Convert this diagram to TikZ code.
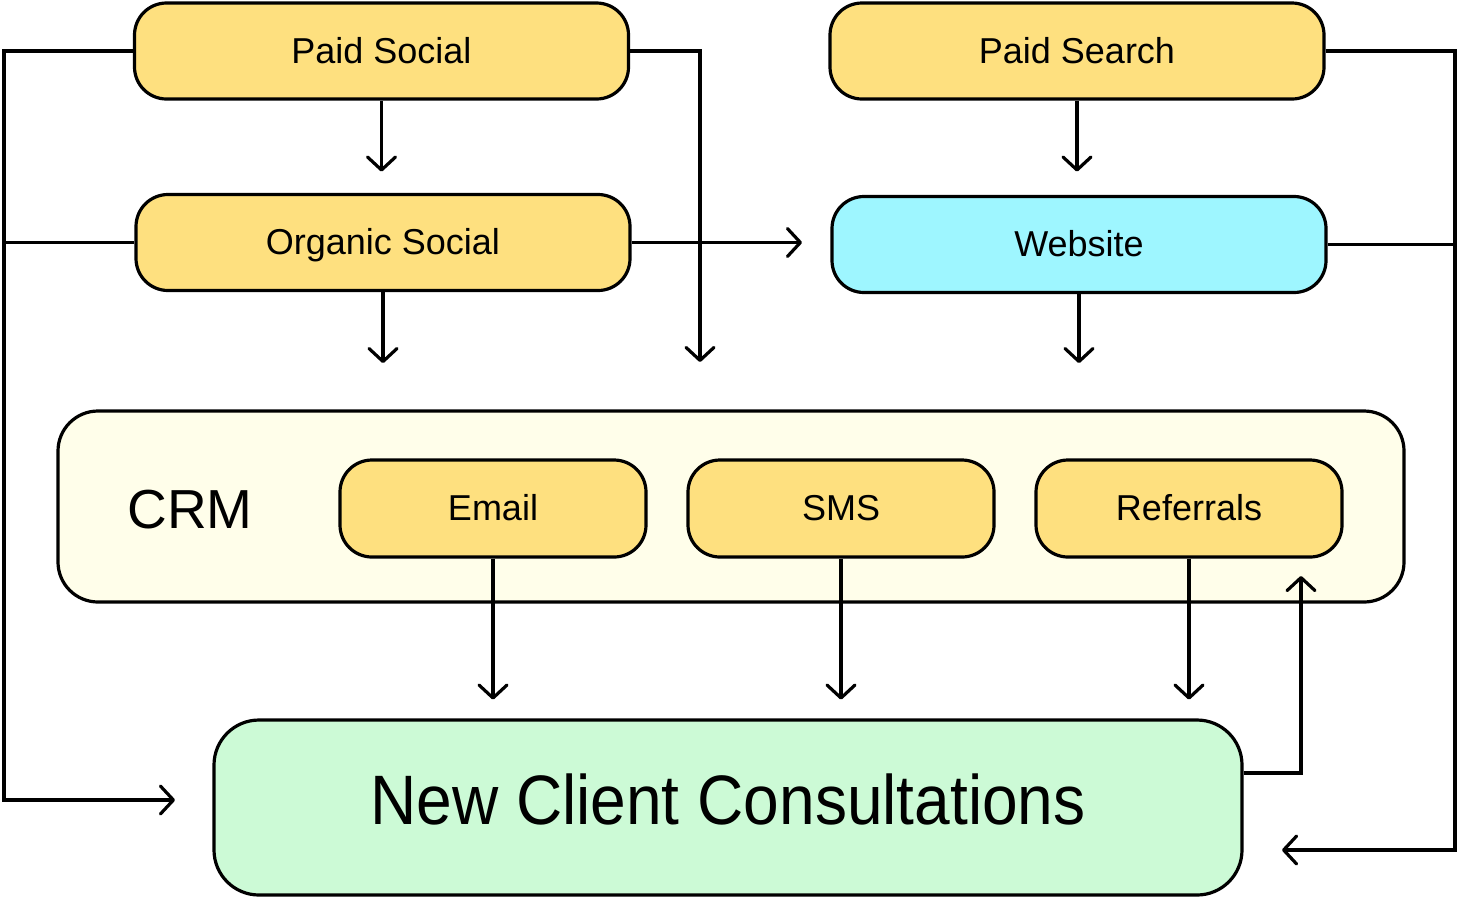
\documentclass[tikz,border=0pt]{standalone}
\usepackage{fontspec}
\setmainfont{Liberation Sans}
\newfontfamily\nccfont[FakeStretch=0.915]{Liberation Sans}
\usetikzlibrary{arrows.meta}
\definecolor{cyel}{HTML}{FEE07F}
\definecolor{ccyan}{HTML}{9EF6FF}
\definecolor{cgreen}{HTML}{CCFAD6}
\definecolor{ccrm}{HTML}{FFFEEA}
\tikzset{
  chan/.style={draw, line width=3.2pt, rounded corners=32pt, fill=cyel, minimum width=494pt, minimum height=96pt, font=\fontsize{36}{40}\selectfont, inner sep=0pt, text height=26pt, text depth=2pt},
  sub/.style={chan, minimum width=306pt, minimum height=97pt},
  conn/.style={line width=3.2pt},
  arr/.style={conn, -{Straight Barb[length=13pt,width=28pt,round]}},
}
\begin{document}
\begin{tikzpicture}[x=1pt,y=-1pt]
\useasboundingbox (0,0) rectangle (1458,898);
\node[draw, line width=3.2pt, rounded corners=40pt, fill=ccrm, minimum width=1346pt, minimum height=191pt] (crm) at (731,506.5) {};
\node[font=\fontsize{55}{60}\selectfont] (crmlabel) at (190,510) {CRM};
\node[chan] (ps) at (381.5,51) {Paid Social};
\node[chan] (os) at (383,242.5) {Organic Social};
\node[chan] (psr) at (1077,51) {Paid Search};
\node[chan, fill=ccyan] (web) at (1079,244.5) {Website};
\node[sub] (email) at (493,508.5) {Email};
\node[sub] (sms) at (841,508.5) {SMS};
\node[sub] (ref) at (1189,508.5) {Referrals};
\node[draw, line width=3.2pt, rounded corners=45pt, fill=cgreen, minimum width=1028pt, minimum height=175pt] (ncc) at (728,807.5) {};
\node[font=\nccfont\fontsize{70}{76}\selectfont, inner sep=0pt, text height=50pt, text depth=0pt] (ncctext) at (728,799) {New Client Consultations};

\coordinate (leftbus) at (4,51);
\coordinate (nccin) at (175,800);
\coordinate (psdown) at (700,362);
\coordinate (webin) at (802,242.5);
\coordinate (rightbus) at (1455,51);
\coordinate (nccright) at (1282,850);
\coordinate (refup) at (1301,576);

\draw[arr] (ps.south) -- ++(0,71);
\draw[arr] (os.south) -- ++(0,71);
\draw[arr] (psr.south) -- ++(0,71);
\draw[arr] (web.south) -- ++(0,69);
\draw[arr] (ps.west) -- (leftbus) |- (nccin);
\draw[conn] (os.west) -- (leftbus |- os.west);
\draw[arr] (ps.east) -| (psdown);
\draw[arr] (os.east) -- (webin);
\draw[arr] (psr.east) -- (rightbus) |- (nccright);
\draw[conn] (web.east) -- (rightbus |- web.east);
\draw[arr] (email.south) -- ++(0,141);
\draw[arr] (sms.south) -- ++(0,141);
\draw[arr] (ref.south) -- ++(0,141);
\draw[arr] ([yshift=34.5pt]ncc.east) -| (refup);
\end{tikzpicture}
\end{document}
